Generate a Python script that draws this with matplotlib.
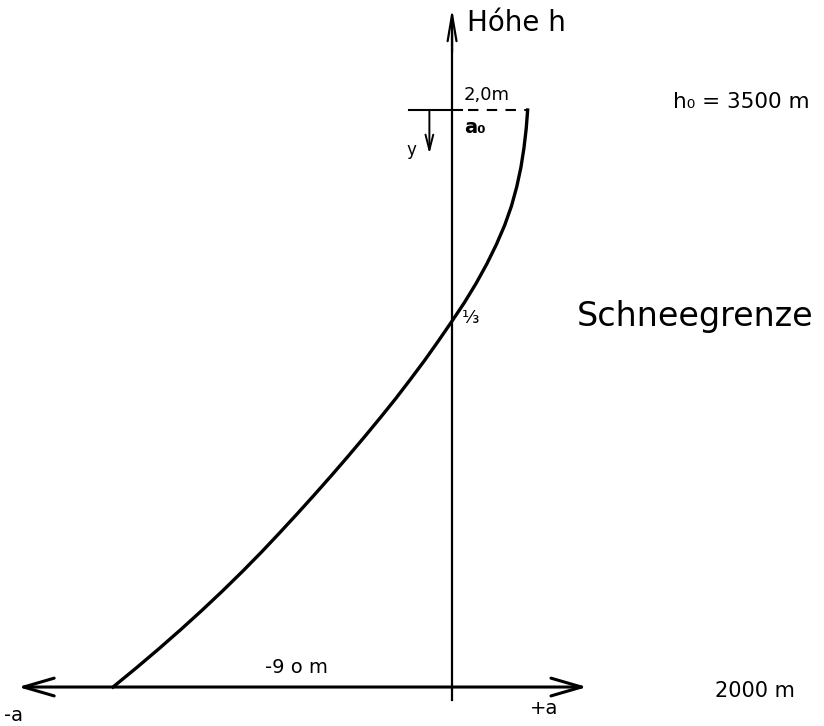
import matplotlib
matplotlib.use("Agg")
import matplotlib.pyplot as plt

# Data: height h (m) and mass balance a (m)
heights = [3500, 3450, 3400, 3350, 3300, 3250, 3200, 3150, 3100, 3050, 3000,
           2950, 2900, 2850, 2800, 2750, 2700, 2650, 2600, 2550, 2500,
           2450, 2400, 2350, 2300, 2250, 2200, 2150, 2100, 2050, 2000]
balance = [2.00, 1.96, 1.90, 1.82, 1.71, 1.57, 1.39, 1.17, 0.92, 0.64, 0.33,
           -0.01, -0.36, -0.72, -1.10, -1.49, -1.90, -2.32, -2.75, -3.19, -3.64,
           -4.10, -4.57, -5.05, -5.55, -6.07, -6.61, -7.17, -7.75, -8.35, -8.97]
h_top, h_bottom = 3500, 2000

fig = plt.figure(figsize=(8.24, 7.26), dpi=100)
ax = fig.add_axes([0, 0, 1, 1])
ax.set_xlim(-11.96, 9.84)
ax.set_ylim(1898.7, 3786)
ax.axis("off")

lw_axis = 1.6
# curve
ax.plot(balance, heights, color="black", lw=2.4, solid_joinstyle="round")

# horizontal axis with double arrow
ax.annotate("", xy=(-11.48, h_bottom), xytext=(3.57, h_bottom),
            arrowprops=dict(arrowstyle="<->,head_length=1.1,head_width=0.32",
                            mutation_scale=20, lw=2.2, color="black",
                            shrinkA=0, shrinkB=0))
# vertical axis with arrow
ax.plot([0, 0], [1966, 3700], color="black", lw=lw_axis)
ax.annotate("", xy=(0, 3765), xytext=(0, 3650),
            arrowprops=dict(arrowstyle="->,head_length=0.95,head_width=0.16",
                            mutation_scale=20, lw=lw_axis, color="black",
                            shrinkA=0, shrinkB=0))

# top reference line h0
ax.plot([-1.14, 0.26], [h_top, h_top], color="black", lw=1.5)
ax.plot([0.42, 2.0], [h_top, h_top], color="black", lw=1.5, dashes=(5, 4))

# y arrow
ax.annotate("", xy=(-0.6, 3386), xytext=(-0.6, h_top),
            arrowprops=dict(arrowstyle="->,head_length=0.55,head_width=0.14",
                            mutation_scale=20, lw=1.4, color="black",
                            shrinkA=0, shrinkB=0))

fam = "DejaVu Sans"
ax.text(0.4, 3725, "Hóhe h", fontsize=20, ha="left", va="center", family=fam)
ax.text(0.3, 3540, "2,0m", fontsize=13, ha="left", va="center", family=fam)
ax.text(0.33, 3455, "a₀", fontsize=14, ha="left", va="center", family=fam, fontweight="bold")
ax.text(-1.2, 3395, "y", fontsize=12, ha="left", va="center", family=fam)
ax.text(5.85, 3520, "h₀ = 3500 m", fontsize=15.5, ha="left", va="center", family=fam)
ax.text(0.25, 2960, "⅓", fontsize=13, ha="left", va="center", family=fam)
ax.text(3.3, 2963, "Schneegrenze", fontsize=24, ha="left", va="center", family=fam)
ax.text(-4.95, 2052, "-9 o m", fontsize=14, ha="left", va="center", family=fam)
ax.text(6.95, 1990, "2000 m", fontsize=15, ha="left", va="center", family=fam)
ax.text(-11.85, 1925, "-a", fontsize=14, ha="left", va="center", family=fam)
ax.text(2.05, 1943, "+a", fontsize=14, ha="left", va="center", family=fam)

fig.savefig("out.png", dpi=100, facecolor="white")
